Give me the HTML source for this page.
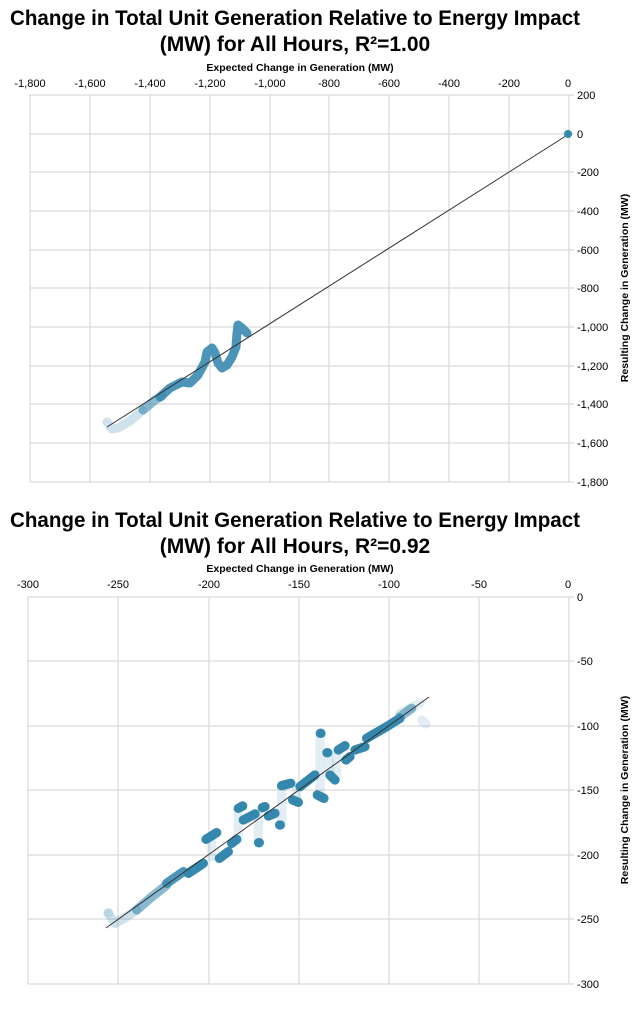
<!DOCTYPE html>
<html><head><meta charset="utf-8"><style>
html,body{margin:0;padding:0;background:#fff;}
svg{display:block;}
text{font-family:"Liberation Sans",Arial,sans-serif;fill:#000;}
.t{font-size:21px;font-weight:bold;}
.tk{font-size:11px;fill:#222;}
.at{font-size:10.5px;font-weight:bold;}
.g{stroke:#d9d9d9;stroke-width:1.2;}
</style></head><body>
<svg width="640" height="1016" viewBox="0 0 640 1016">
<!-- TOP CHART -->
<text class="t" x="295" y="25" text-anchor="middle" textLength="570" lengthAdjust="spacingAndGlyphs">Change in Total Unit Generation Relative to Energy Impact</text>
<text class="t" x="295" y="51" text-anchor="middle">(MW) for All Hours, R²=1.00</text>
<text class="at" x="300" y="71" text-anchor="middle">Expected Change in Generation (MW)</text>
<g class="tk" text-anchor="middle">
<text x="30" y="87">-1,800</text><text x="90" y="87">-1,600</text><text x="150" y="87">-1,400</text><text x="210" y="87">-1,200</text><text x="270" y="87">-1,000</text><text x="329" y="87">-800</text><text x="389" y="87">-600</text><text x="449" y="87">-400</text><text x="509" y="87">-200</text><text x="568" y="87">0</text>
</g>
<g class="g">
<line x1="30" y1="95" x2="30" y2="482"/><line x1="90" y1="95" x2="90" y2="482"/><line x1="150" y1="95" x2="150" y2="482"/><line x1="210" y1="95" x2="210" y2="482"/><line x1="270" y1="95" x2="270" y2="482"/><line x1="329" y1="95" x2="329" y2="482"/><line x1="389" y1="95" x2="389" y2="482"/><line x1="449" y1="95" x2="449" y2="482"/><line x1="509" y1="95" x2="509" y2="482"/><line x1="569" y1="95" x2="569" y2="482"/>
<line x1="30" y1="95" x2="574" y2="95"/><line x1="30" y1="134" x2="574" y2="134"/><line x1="30" y1="172" x2="574" y2="172"/><line x1="30" y1="211" x2="574" y2="211"/><line x1="30" y1="250" x2="574" y2="250"/><line x1="30" y1="288" x2="574" y2="288"/><line x1="30" y1="327" x2="574" y2="327"/><line x1="30" y1="366" x2="574" y2="366"/><line x1="30" y1="404" x2="574" y2="404"/><line x1="30" y1="443" x2="574" y2="443"/><line x1="30" y1="482" x2="574" y2="482"/>
</g>
<g class="tk">
<text x="577" y="99">200</text><text x="577" y="138">0</text><text x="577" y="176">-200</text><text x="577" y="215">-400</text><text x="577" y="254">-600</text><text x="577" y="292">-800</text><text x="577" y="331">-1,000</text><text x="577" y="370">-1,200</text><text x="577" y="408">-1,400</text><text x="577" y="447">-1,600</text><text x="577" y="486">-1,800</text>
</g>
<text class="at" transform="translate(628,288) rotate(-90)" text-anchor="middle">Resulting Change in Generation (MW)</text>
<g fill="none" stroke-linecap="round" stroke-linejoin="round" stroke-width="9">
<polyline stroke="#3a8ab0" stroke-opacity="0.25" points="107,422 112,429 118,428 130,421 143,410"/>
<polyline stroke="#3a8ab0" stroke-opacity="0.6" points="143,410 155,400 162,396"/>
<polyline stroke="#3a8ab0" stroke-opacity="0.9" points="160,397 170,388 182,382 190,383 198,375 205,362 207,352 212,348 215,353 218,363 222,368 227,365 232,357 236,347 237,333 238,325 242,328 247,333"/>
</g>
<line x1="107" y1="427" x2="569" y2="134" stroke="#333" stroke-width="1"/>
<circle cx="568" cy="134" r="4" fill="#3588ad"/>

<!-- BOTTOM CHART -->
<text class="t" x="295" y="527" text-anchor="middle" textLength="570" lengthAdjust="spacingAndGlyphs">Change in Total Unit Generation Relative to Energy Impact</text>
<text class="t" x="295" y="553" text-anchor="middle">(MW) for All Hours, R²=0.92</text>
<text class="at" x="300" y="572" text-anchor="middle">Expected Change in Generation (MW)</text>
<g class="tk" text-anchor="middle">
<text x="28" y="588">-300</text><text x="118" y="588">-250</text><text x="209" y="588">-200</text><text x="299" y="588">-150</text><text x="389" y="588">-100</text><text x="479" y="588">-50</text><text x="568" y="588">0</text>
</g>
<g class="g">
<line x1="28" y1="597" x2="28" y2="984"/><line x1="118" y1="597" x2="118" y2="984"/><line x1="209" y1="597" x2="209" y2="984"/><line x1="299" y1="597" x2="299" y2="984"/><line x1="389" y1="597" x2="389" y2="984"/><line x1="479" y1="597" x2="479" y2="984"/><line x1="569" y1="597" x2="569" y2="984"/>
<line x1="28" y1="597" x2="574" y2="597"/><line x1="28" y1="661" x2="574" y2="661"/><line x1="28" y1="726" x2="574" y2="726"/><line x1="28" y1="790" x2="574" y2="790"/><line x1="28" y1="855" x2="574" y2="855"/><line x1="28" y1="919" x2="574" y2="919"/><line x1="28" y1="984" x2="574" y2="984"/>
</g>
<g class="tk">
<text x="577" y="601">0</text><text x="577" y="665">-50</text><text x="577" y="730">-100</text><text x="577" y="794">-150</text><text x="577" y="859">-200</text><text x="577" y="923">-250</text><text x="577" y="988">-300</text>
</g>
<text class="at" transform="translate(628,790) rotate(-90)" text-anchor="middle">Resulting Change in Generation (MW)</text>
<g transform="translate(100,680) scale(0.3333)" fill="none" stroke-linecap="round" stroke-linejoin="round" stroke-width="28">
<g stroke="#3a8ab0" stroke-opacity="0.15">
<line x1="335" y1="470" x2="335" y2="530"/><line x1="415" y1="390" x2="415" y2="480"/><line x1="475" y1="400" x2="475" y2="490"/><line x1="545" y1="320" x2="545" y2="430"/><line x1="660" y1="170" x2="660" y2="350"/><line x1="685" y1="220" x2="690" y2="290"/><line x1="710" y1="220" x2="710" y2="290"/><line x1="590" y1="320" x2="590" y2="360"/>
<polyline points="900,100 960,70"/><polyline points="965,120 978,132"/><polyline points="24,698 26,698"/>
</g>
<polyline stroke="#3a8ab0" stroke-opacity="0.25" points="25,700 45,730 80,710 110,690"/>
<polyline stroke="#3a8ab0" stroke-opacity="0.6" points="110,690 150,655 200,615"/>
<polyline stroke="#3a8ab0" stroke-opacity="0.9" points="200,610 250,575"/>
<g stroke="#3588ad">
<polyline points="265,580 310,550"/>
<polyline points="318,478 350,458"/>
<polyline points="358,535 385,515"/>
<polyline points="395,490 410,478"/>
<polyline points="415,385 428,378"/>
<polyline points="430,420 465,402"/>
<polyline points="476,488 478,488"/>
<polyline points="487,383 495,380"/>
<polyline points="505,408 525,400"/>
<polyline points="539,435 541,435"/>
<polyline points="545,317 572,310"/>
<polyline points="578,360 595,367"/>
<polyline points="600,320 645,285"/>
<polyline points="652,345 672,355"/>
<polyline points="661,160 663,160"/>
<polyline points="681,218 683,218"/>
<polyline points="690,285 705,300"/>
<polyline points="715,210 735,197"/>
<polyline points="738,240 750,230"/>
<polyline points="765,210 795,200"/>
<polyline points="800,175 860,140 900,115"/>
</g>
<polyline stroke="#3a8ab0" stroke-opacity="0.6" points="900,110 935,85"/>
</g>
<line x1="106" y1="928" x2="429" y2="697" stroke="#333" stroke-width="1"/>
</svg>
</body></html>
